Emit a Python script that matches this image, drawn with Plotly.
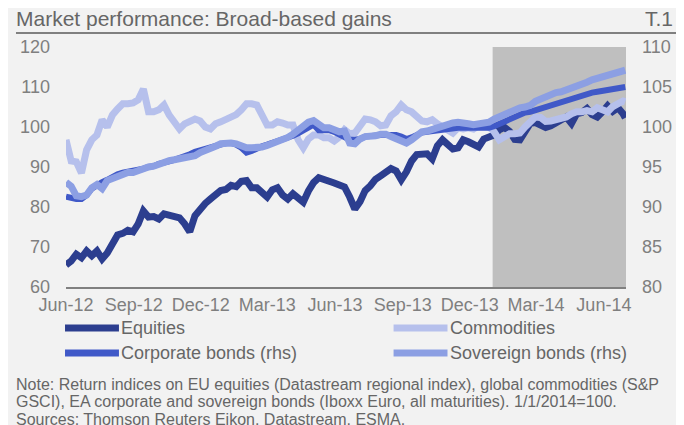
import pandas as pd
import plotly.graph_objects as go

# ---------------- data ----------------
dates = list(pd.date_range("2012-06-01", "2014-06-27", freq="7D")) + [pd.Timestamp("2014-06-30")]

equities = [
    65.5, 66.5, 68.2, 67.3, 69.0, 67.8, 69.0, 67.0, 68.5, 71.2,
    73.0, 73.4, 74.2, 73.8, 75.8, 79.0, 77.5, 77.6, 77.0, 78.3,
    78.0, 77.5, 77.3, 75.8, 73.8, 77.8, 79.5, 80.9, 82.0, 83.3,
    84.1, 84.4, 85.4, 85.1, 86.4, 86.6, 84.8, 84.8, 83.5, 82.5,
    84.3, 84.8, 83.0, 82.0, 83.3, 82.3, 81.2, 84.0, 86.1, 87.3,
    86.9, 86.8, 86.0, 85.5, 85.0, 82.5, 79.5, 81.3, 84.1, 85.3,
    86.9, 87.8, 88.9, 89.6, 89.0, 86.8, 88.8, 91.5, 93.1, 93.4,
    93.3, 92.0, 95.3, 96.8, 95.9, 94.5, 94.8, 96.8, 96.3, 95.8,
    95.0, 97.0, 97.3, 98.0, 99.3, 99.9, 98.9, 96.9, 96.8, 99.3,
    100.9, 101.1, 100.5, 99.9, 100.3, 101.0, 102.1, 102.5, 100.9, 103.3,
    103.6, 104.6, 103.1, 102.5, 103.8, 105.3, 103.9, 104.8, 103.3,
    102.3,
]
commodities = [
    96.8, 91.5, 91.3, 88.5, 94.3, 96.8, 98.0, 101.8, 100.0, 103.0,
    104.5, 105.8, 105.8, 106.0, 106.8, 109.5, 103.8, 103.8, 104.3, 105.5,
    103.0, 101.0, 99.5, 100.8, 101.3, 102.0, 101.5, 100.0, 99.5, 100.8,
    101.3, 101.8, 102.4, 103.1, 104.3, 105.8, 105.8, 105.5, 103.0, 100.5,
    100.5, 101.3, 101.0, 100.5, 100.5, 96.8, 94.8, 97.0, 98.0, 98.0,
    97.3, 97.3, 96.5, 97.5, 99.3, 98.3, 98.5, 100.3, 102.0, 101.8,
    101.3, 100.3, 100.5, 102.8, 103.8, 105.5, 104.3, 103.8, 102.5, 101.5,
    101.3, 101.8, 100.8, 100.0, 99.0, 98.5, 99.8, 99.5, 99.8, 99.5,
    100.3, 100.5, 100.0, 98.8, 96.8, 97.5, 98.3, 98.3, 98.5, 100.0,
    101.5, 102.5, 102.4, 101.4, 101.5, 101.8, 101.9, 102.5, 103.3, 103.8,
    103.8, 104.1, 103.8, 104.8, 104.3, 103.8, 105.1, 106.0, 106.5,
    106.3,
]
corporate_bonds = [
    91.3, 91.1, 91.0, 91.0, 91.5, 92.3, 92.8, 93.1, 93.4, 93.8,
    94.1, 94.3, 94.4, 94.5, 94.6, 94.8, 95.0, 95.1, 95.4, 95.5,
    95.7, 95.9, 96.1, 96.4, 96.6, 96.9, 97.1, 97.3, 97.4, 97.6,
    97.9, 98.0, 98.0, 97.8, 97.4, 96.8, 97.0, 97.4, 97.6, 97.8,
    98.0, 98.3, 98.5, 98.7, 98.9, 99.2, 99.5, 99.8, 100.3, 99.6,
    99.6, 99.6, 99.4, 99.1, 98.9, 98.4, 98.4, 98.5, 98.8, 98.9,
    99.0, 99.0, 99.0, 99.0, 99.0, 98.8, 98.5, 98.7, 99.1, 99.3,
    99.4, 99.5, 99.6, 99.6, 99.8, 99.9, 99.9, 99.9, 99.9, 99.9,
    99.9, 99.9, 99.9, 100.1, 100.4, 100.8, 101.0, 101.3, 101.5, 101.8,
    101.9, 102.1, 102.3, 102.5, 102.7, 102.9, 103.1, 103.3, 103.5, 103.8,
    103.9, 104.1, 104.3, 104.4, 104.5, 104.6, 104.8, 104.9, 105.0,
    105.0,
]
sovereign_bonds = [
    93.1, 92.6, 91.4, 91.3, 91.5, 92.4, 92.8, 92.3, 93.3, 93.6,
    93.9, 94.1, 94.3, 94.3, 94.6, 94.7, 95.0, 95.1, 95.4, 95.5,
    95.8, 95.9, 96.0, 96.1, 96.3, 96.4, 96.8, 97.0, 97.4, 97.6,
    97.9, 98.0, 98.0, 97.9, 97.6, 97.4, 97.4, 97.4, 97.5, 97.7,
    97.9, 98.3, 98.5, 98.7, 99.1, 99.6, 100.1, 100.6, 100.8, 100.3,
    99.9, 99.9, 99.7, 99.4, 99.5, 98.0, 97.9, 98.5, 98.8, 98.8,
    98.9, 99.1, 99.1, 98.8, 98.6, 98.4, 98.0, 98.4, 98.9, 99.4,
    99.5, 99.7, 100.0, 100.3, 100.4, 100.5, 100.6, 100.6, 100.4, 100.3,
    100.4, 100.5, 100.6, 101.0, 101.3, 101.6, 101.9, 102.3, 102.4, 102.5,
    102.7, 103.2, 103.5, 103.8, 104.0, 104.3, 104.4, 104.6, 104.8, 105.0,
    105.3, 105.6, 105.9, 106.1, 106.3, 106.4, 106.5, 106.7, 107.0,
    107.1,
]

tick_dates = ["2012-06-01", "2012-09-01", "2012-12-01", "2013-03-01", "2013-06-01",
              "2013-09-01", "2013-12-01", "2014-03-01", "2014-06-01"]
tick_labels = ["Jun-12", "Sep-12", "Dec-12", "Mar-13", "Jun-13",
               "Sep-13", "Dec-13", "Mar-14", "Jun-14"]
left_ticks = [60, 70, 80, 90, 100, 110, 120]
right_ticks = [80, 85, 90, 95, 100, 105, 110]

series_names = ["Equities", "Commodities", "Corporate bonds (rhs)", "Sovereign bonds (rhs)"]
colors = ["#2c3e8f", "#b6c0ec", "#4059c8", "#8c9fe3"]
widths = [7, 7, 6, 7]

title_text = "Market performance: Broad-based gains"
chart_id = "T.1"
note_lines = [
    "Note: Return indices on EU equities (Datastream regional index), global commodities (S&P",
    "GSCI), EA corporate and sovereign bonds (Iboxx Euro, all maturities). 1/1/2014=100.",
    "Sources: Thomson Reuters Eikon, Datastream, ESMA.",
]

# ---------------- layout geometry (page pixels; the page body has an 8px margin) ----------------
OFF = 8
FW, FH = 684 - OFF, 425 - OFF
L, T, PW, PH = 61, 47, 571, 240   # plot area in page pixels


def px(xp):
    return (xp - L) / PW


def py(yp):
    return (T + PH - yp) / PH


FONT = "Liberation Sans, Arial, sans-serif"
TXT = "#666666"
TICK = "#7f7f7f"

fig = go.Figure()
fig.add_trace(go.Scatter(x=dates, y=equities, mode="lines", name=series_names[0],
                         line=dict(color=colors[0], width=widths[0]), yaxis="y"))
fig.add_trace(go.Scatter(x=dates, y=commodities, mode="lines", name=series_names[1],
                         line=dict(color=colors[1], width=widths[1]), yaxis="y"))
fig.add_trace(go.Scatter(x=dates, y=corporate_bonds, mode="lines", name=series_names[2],
                         line=dict(color=colors[2], width=widths[2]), yaxis="y2"))
fig.add_trace(go.Scatter(x=dates, y=sovereign_bonds, mode="lines", name=series_names[3],
                         line=dict(color=colors[3], width=widths[3]), yaxis="y2"))

shapes = [
    # shaded 2014 period
    dict(type="rect", xref="x", yref="paper", x0="2014-01-01", x1="2014-07-01", y0=0, y1=1,
         fillcolor="#bfbfbf", line=dict(width=0), layer="below"),
    # title underline
    dict(type="line", xref="paper", yref="paper", x0=px(10), x1=px(690), y0=py(33), y1=py(33),
         line=dict(color="#808080", width=2)),
]

annotations = [
    dict(text=title_text, xref="paper", yref="paper", x=px(8), y=py(19), xanchor="left",
         yanchor="middle", showarrow=False, font=dict(family=FONT, size=21, color=TXT)),
    dict(text=chart_id, xref="paper", yref="paper", x=px(682), y=py(19), xanchor="right",
         yanchor="middle", showarrow=False, font=dict(family=FONT, size=21, color=TXT)),
]

# manual legend (2 columns)
leg_pos = [(60, 328), (395, 328), (60, 353), (395, 353)]
for (lx, ly), name, col in zip(leg_pos, series_names, colors):
    shapes.append(dict(type="line", xref="paper", yref="paper", x0=px(lx), x1=px(lx + 55),
                       y0=py(ly), y1=py(ly), line=dict(color=col, width=7)))
    annotations.append(dict(text=name, xref="paper", yref="paper", x=px(lx + 55), y=py(ly),
                            xanchor="left", yanchor="middle", showarrow=False,
                            font=dict(family=FONT, size=18, color=TXT)))

for i, line in enumerate(note_lines):
    annotations.append(dict(text=line, xref="paper", yref="paper", x=px(8), y=py(384 + 17.5 * i),
                            xanchor="left", yanchor="middle", showarrow=False,
                            font=dict(family=FONT, size=16, color=TXT)))

fig.update_layout(
    width=FW, height=FH,
    margin=dict(l=L - OFF, r=FW - (L - OFF) - PW, t=T - OFF, b=FH - (T - OFF) - PH),
    paper_bgcolor="#f2f2f2", plot_bgcolor="#f2f2f2",
    showlegend=False,
    font=dict(family=FONT, color=TICK),
    xaxis=dict(type="date", range=["2012-06-01", "2014-07-01"], tickvals=tick_dates,
               ticktext=tick_labels, showgrid=False, zeroline=False, showline=True,
               linecolor="#808080", linewidth=2, ticks="", tickfont=dict(size=18, color=TICK)),
    yaxis=dict(range=[60, 120], tickvals=left_ticks, showgrid=False, zeroline=False,
               showline=False, ticks="", ticklabelstandoff=15, tickfont=dict(size=18, color=TICK)),
    yaxis2=dict(range=[80, 110], tickvals=right_ticks, overlaying="y", side="right",
                showgrid=False, zeroline=False, showline=False, ticks="", ticklabelstandoff=15,
                tickfont=dict(size=18, color=TICK)),
    shapes=shapes,
    annotations=annotations,
)

fig.write_html("out.html")
